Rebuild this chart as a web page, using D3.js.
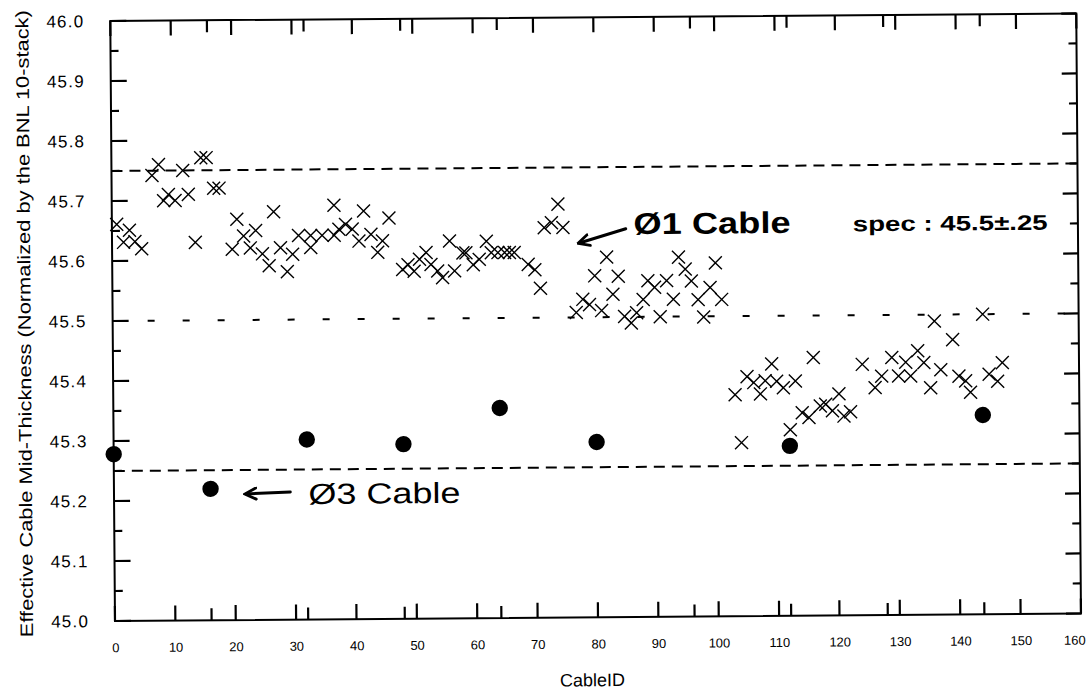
<!DOCTYPE html>
<html>
<head>
<meta charset="utf-8">
<script src="https://cdn.jsdelivr.net/npm/d3@7"></script>
<style>
  html, body { margin: 0; padding: 0; background: #fff; }
  svg { display: block; }
  text { font-family: "Liberation Sans", Arial, sans-serif; fill: #000; }
</style>
</head>
<body>
<div id="chart"></div>
<script>
// ---------- data ----------
const o1CableIds = [
  0.8, 1.9, 2.9, 3.8, 4.9, 6.7, 7.8, 8.6, 9.4, 10.5, 11.8, 12.7, 13.8, 14.8, 15.7, 16.9, 17.8,
  19.9, 20.7, 21.8, 22.9, 23.8, 24.9, 26.0, 26.8, 27.9, 29.0, 29.9, 30.9, 32.9, 32.9, 34.8, 36.8, 36.8,
  37.6, 38.7, 39.8, 40.9, 41.7, 42.9, 44.0, 44.8, 45.9, 48.1, 49.0, 50.0, 50.9, 52.0, 52.8, 53.9,
  54.7, 55.9, 56.7, 58.1, 58.6, 59.8, 60.8, 62.0, 62.8, 63.9, 65.0, 65.8, 66.6, 68.9, 70.0, 70.9,
  71.6, 72.8, 73.9, 74.7, 76.8, 77.9, 79.0, 79.9, 81.0, 81.9, 82.9, 83.8, 84.8, 85.9, 86.8, 87.9,
  88.7, 89.8, 90.7, 91.8, 92.9, 93.8, 94.9, 95.9, 97.0, 97.9, 99.0, 99.9, 100.9,
  103.0, 104.0, 105.0, 106.1, 107.2, 108.0, 109.1, 109.9, 111.0, 112.1, 113.0, 114.1, 115.2, 116.0,
  117.1, 118.0, 119.1, 120.2, 121.0, 122.1, 124.1, 126.2, 127.3, 129.0, 130.1, 131.3, 132.1, 133.3,
  134.3, 135.4, 136.1, 137.1, 139.1, 140.1, 141.2, 142.0, 144.1, 145.1, 146.5, 147.3
];
const o1Thickness = [
  45.661, 45.631, 45.651, 45.632, 45.620, 45.742, 45.760, 45.700, 45.710, 45.700, 45.750, 45.710, 45.630, 45.771, 45.771, 45.720, 45.720,
  45.618, 45.668, 45.640, 45.620, 45.649, 45.610, 45.590, 45.680, 45.620, 45.580, 45.609, 45.640, 45.620, 45.640, 45.640, 45.640, 45.690,
  45.650, 45.658, 45.650, 45.630, 45.680, 45.641, 45.611, 45.630, 45.668, 45.582, 45.590, 45.579, 45.599, 45.610, 45.590, 45.579,
  45.568, 45.629, 45.579, 45.609, 45.609, 45.589, 45.598, 45.628, 45.609, 45.609, 45.609, 45.609, 45.609, 45.589, 45.580, 45.549,
  45.650, 45.658, 45.689, 45.650, 45.508, 45.530, 45.521, 45.569, 45.511, 45.600, 45.538, 45.568, 45.501, 45.490, 45.507, 45.529,
  45.560, 45.549, 45.500, 45.560, 45.529, 45.599, 45.579, 45.559, 45.528, 45.499, 45.548, 45.589, 45.528,
  45.369, 45.289, 45.399, 45.389, 45.370, 45.392, 45.420, 45.391, 45.380, 45.310, 45.391, 45.338, 45.330, 45.430,
  45.349, 45.352, 45.341, 45.369, 45.332, 45.339, 45.418, 45.379, 45.398, 45.429, 45.398, 45.421, 45.398, 45.440,
  45.420, 45.378, 45.489, 45.408, 45.458, 45.397, 45.389, 45.370, 45.500, 45.400, 45.388, 45.419
];
const o3CableIds = [0, 16, 32, 48, 64, 80, 112, 144];
const o3Thickness = [45.278, 45.219, 45.300, 45.291, 45.350, 45.292, 45.283, 45.332];

const xDomain = [0, 160];
const yDomain = [45.0, 46.0];
const xMajorTicks = [0, 10, 20, 30, 40, 50, 60, 70, 80, 90, 100, 110, 120, 130, 140, 150, 160];
const xMinorTicks = [16, 32, 48, 64, 80, 96, 112, 128, 144];
const yMajorTicks = [45.0, 45.1, 45.2, 45.3, 45.4, 45.5, 45.6, 45.7, 45.8, 45.9, 46.0];
const yMinorTicks = [45.05, 45.15, 45.25, 45.35, 45.45, 45.55, 45.65, 45.75, 45.85, 45.95];
const specLevels = [45.75, 45.5, 45.25];
const specDash = ["11,7", "7,28", "11,7"];

const xTitle = "CableID";
const yTitle = "Effective Cable Mid-Thickness (Normalized by the BNL 10-stack)";

const noteTexts = ["Ø1 Cable", "spec : 45.5±.25", "Ø3 Cable"];
const noteX = [86.4, 122.7, 32.2];
const noteY = [45.638, 45.640, 45.1925];
const noteSize = [30, 21, 29];
const noteWeight = ["bold", "bold", "normal"];
const noteLen = [157, 195, 152];
const arrowFromX = [85.1, 29.2];
const arrowFromY = [45.647, 45.2127];
const arrowToX = [77.4, 21.9];
const arrowToY = [45.624, 45.210];

// ---------- layout ----------
const W = 1087, H = 699;
const mLeft = 115, mRight = 1081, mTop = 21, mBottom = 621;

const svg = d3.select("#chart").append("svg")
  .attr("width", W).attr("height", H)
  .style("background", "#fff");

const defs = svg.append("defs");
defs.append("marker").attr("id", "arrowhead")
  .attr("viewBox", "0 0 10 10").attr("refX", 8).attr("refY", 5)
  .attr("markerUnits", "userSpaceOnUse")
  .attr("markerWidth", 14).attr("markerHeight", 14).attr("orient", "auto")
  .append("path").attr("d", "M1,1 L9,5 L1,9").attr("fill", "none")
  .attr("stroke", "#000").attr("stroke-width", 2).attr("stroke-linecap", "round");

// slight scan skew
const g = svg.append("g").attr("transform", `rotate(-0.45, ${mLeft}, ${mBottom})`);

const x = d3.scaleLinear().domain(xDomain).range([mLeft, mRight]);
const y = d3.scaleLinear().domain(yDomain).range([mBottom, mTop]);

// tick labels via d3 axes (tick marks drawn separately below)
const bottomAxis = g.append("g").attr("transform", `translate(0,${y(yDomain[0])})`)
  .call(d3.axisBottom(x).tickValues(xMajorTicks).tickSize(0).tickPadding(22)
        .tickFormat(d3.format("d")));
bottomAxis.select(".domain").remove();
bottomAxis.selectAll("text").attr("font-size", 13).attr("font-family", "Liberation Sans")
  .filter(d => d === xDomain[1]).attr("text-anchor", "end").attr("dx", 4);

const leftAxis = g.append("g").attr("transform", `translate(${x(xDomain[0])},0)`)
  .call(d3.axisLeft(y).tickValues(yMajorTicks).tickSize(0).tickPadding(26)
        .tickFormat(d3.format(".1f")));
leftAxis.select(".domain").remove();
leftAxis.selectAll("text").attr("font-size", 17).attr("letter-spacing", 1.2)
  .attr("font-family", "Liberation Sans");

// tick marks (inward on all four sides)
const fx0 = x(xDomain[0]), fx1 = x(xDomain[1]), fy0 = y(yDomain[0]), fy1 = y(yDomain[1]);
const tickPaths = [];
xMajorTicks.forEach(v => {
  tickPaths.push(`M${x(v)},${fy0}V${fy0 - 15}`);
  tickPaths.push(`M${x(v)},${fy1}V${fy1 + 15}`);
});
xMinorTicks.forEach(v => {
  tickPaths.push(`M${x(v)},${fy0}V${fy0 - 12}`);
  tickPaths.push(`M${x(v)},${fy1}V${fy1 + 12}`);
});
yMajorTicks.forEach(v => {
  tickPaths.push(`M${fx0},${y(v)}H${fx0 + 16}`);
  tickPaths.push(`M${fx1},${y(v)}H${fx1 - 15}`);
});
yMinorTicks.forEach(v => {
  tickPaths.push(`M${fx0},${y(v)}H${fx0 + 8}`);
  tickPaths.push(`M${fx1},${y(v)}H${fx1 - 8}`);
});
g.append("path")
  .attr("d", tickPaths.join(""))
  .attr("fill", "none").attr("stroke", "#000").attr("stroke-width", 2.2);

// frame
g.append("rect")
  .attr("x", fx0).attr("y", fy1).attr("width", fx1 - fx0).attr("height", fy0 - fy1)
  .attr("fill", "none").attr("stroke", "#000").attr("stroke-width", 2);

// spec lines
g.append("g").selectAll("line").data(specLevels).join("line")
  .attr("x1", fx0).attr("x2", fx1)
  .attr("y1", d => y(d)).attr("y2", d => y(d))
  .attr("stroke", "#000").attr("stroke-width", 2)
  .attr("stroke-dasharray", (d, i) => specDash[i]);

// Ø1 crosses
const h = 6.5;
const o1 = o1CableIds.map((c, i) => [c, o1Thickness[i]]);
g.append("g").selectAll("path").data(o1).join("path")
  .attr("d", d => {
    const cx = x(d[0]), cy = y(d[1]);
    return `M${cx - h},${cy - h}L${cx + h},${cy + h}M${cx - h},${cy + h}L${cx + h},${cy - h}`;
  })
  .attr("stroke", "#000").attr("stroke-width", 1.4).attr("fill", "none");

// Ø3 filled circles
const o3 = o3CableIds.map((c, i) => [c, o3Thickness[i]]);
g.append("g").selectAll("circle").data(o3).join("circle")
  .attr("cx", d => x(d[0])).attr("cy", d => y(d[1])).attr("r", 8.2).attr("fill", "#000");

// annotations
g.append("g").selectAll("line").data(arrowFromX).join("line")
  .attr("x1", (d, i) => x(arrowFromX[i])).attr("y1", (d, i) => y(arrowFromY[i]))
  .attr("x2", (d, i) => x(arrowToX[i])).attr("y2", (d, i) => y(arrowToY[i]))
  .attr("stroke", "#000").attr("stroke-width", 3).attr("stroke-linecap", "round")
  .attr("marker-end", "url(#arrowhead)");
g.append("g").selectAll("text").data(noteTexts).join("text")
  .attr("x", (d, i) => x(noteX[i])).attr("y", (d, i) => y(noteY[i]))
  .attr("font-family", "DejaVu Sans")
  .attr("font-size", (d, i) => noteSize[i])
  .attr("font-weight", (d, i) => noteWeight[i])
  .attr("textLength", (d, i) => noteLen[i])
  .attr("lengthAdjust", "spacingAndGlyphs")
  .text(d => d);

// axis titles
g.append("text")
  .attr("x", (mLeft + mRight) / 2 - 6).attr("y", 690)
  .attr("text-anchor", "middle").attr("font-size", 18)
  .text(xTitle);
g.append("text")
  .attr("transform", `translate(33, ${(mTop + mBottom) / 2 + 2}) rotate(-90)`)
  .attr("text-anchor", "middle").attr("font-size", 18)
  .attr("textLength", 627).attr("lengthAdjust", "spacingAndGlyphs")
  .text(yTitle);
</script>
</body>
</html>
